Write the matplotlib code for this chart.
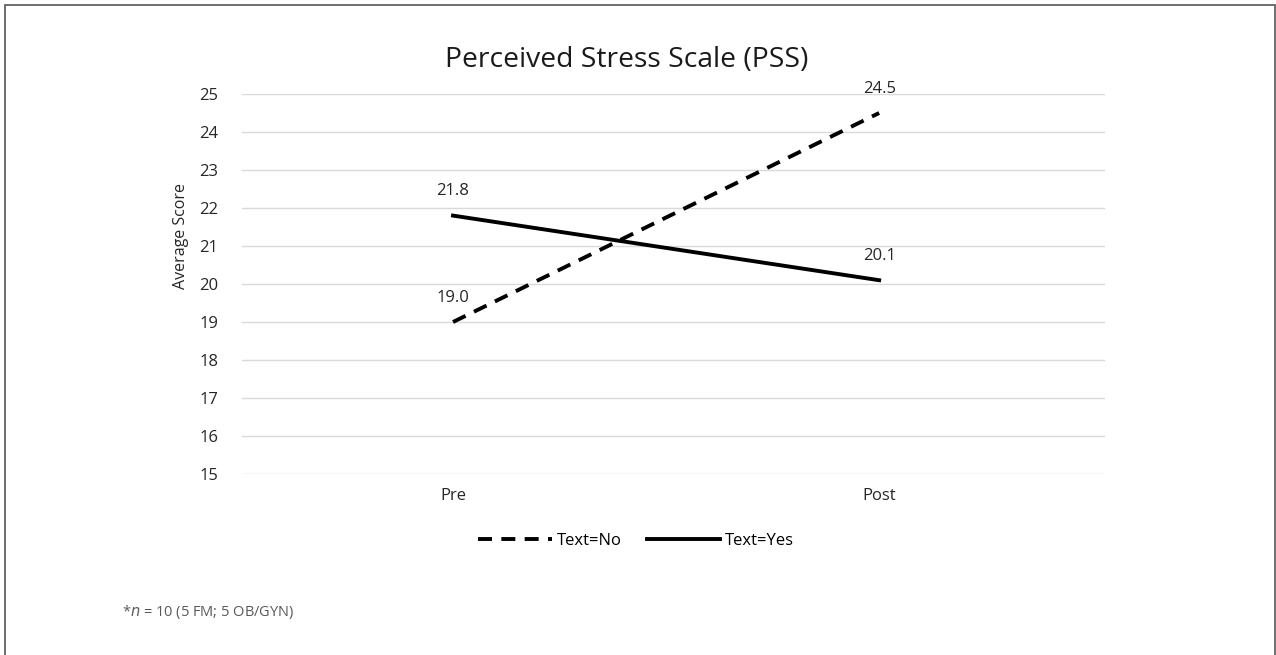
import matplotlib
matplotlib.use("Agg")
import matplotlib.pyplot as plt
from matplotlib.patches import Rectangle

CATS = ["Pre", "Post"]
TEXT_NO = [19.0, 24.5]
TEXT_YES = [21.8, 20.1]
YTICKS = list(range(15, 26))
GREY = "#595959"

plt.rcParams.update({"font.family": ["Open Sans", "DejaVu Sans"], "font.size": 12})

fig = plt.figure(figsize=(12.76, 6.55), dpi=100)
ax = fig.add_axes([0.1897, 0.2763, 0.6763, 0.5802])

x = range(len(CATS))
ax.plot(x, TEXT_NO, color="black", lw=2.8, ls=(0, (3.6, 2.4)), label="Text=No")
ax.plot(x, TEXT_YES, color="black", lw=2.8, ls="-", label="Text=Yes")
for vals in (TEXT_NO, TEXT_YES):
    for xi, v in zip(x, vals):
        ax.annotate(f"{v:.1f}", (xi, v), xytext=(0, 17.5), textcoords="offset points",
                    ha="center", va="center", fontsize=12, color="#262626")

# Pre/Post centres sit at ~453px and ~879px of the 242-1105px plot area
ax.set_xlim(-0.495, 1.53)
ax.set_ylim(15, 25)
ax.set_yticks(YTICKS)
ax.set_xticks(list(x)); ax.set_xticklabels(CATS)
ax.grid(axis="y", color="#d9d9d9", lw=1)
ax.set_axisbelow(True)
for s in ax.spines.values():
    s.set_visible(False)
ax.tick_params(length=0, colors="#262626", labelsize=12)
ax.tick_params(axis="y", pad=17)
ax.tick_params(axis="x", pad=10)
ax.set_ylabel("Average Score", fontsize=11.5, color="#262626")
ax.yaxis.set_label_coords(-0.0614, 0.626)

fig.text(0.4914, 0.908, "Perceived Stress Scale (PSS)", ha="center", va="center",
         fontsize=20.3, color="#1a1a1a")
h, l = ax.get_legend_handles_labels()
fig.legend(h, l, loc="center", bbox_to_anchor=(0.4985, 0.174), ncol=2, frameon=False,
           handlelength=4.4, columnspacing=1.5, handletextpad=0.3, fontsize=12)
fig.text(0.0956, 0.066, r"*$n$ = 10 (5 FM; 5 OB/GYN)", ha="left", va="center",
         fontsize=10.5, color=GREY)

fig.add_artist(Rectangle((5 / 1276, -0.05), 1270 / 1276, 1.05 - 5 / 655,
                         transform=fig.transFigure, fill=False, ec="#555555", lw=1.2))

fig.savefig("out.png", dpi=100)
